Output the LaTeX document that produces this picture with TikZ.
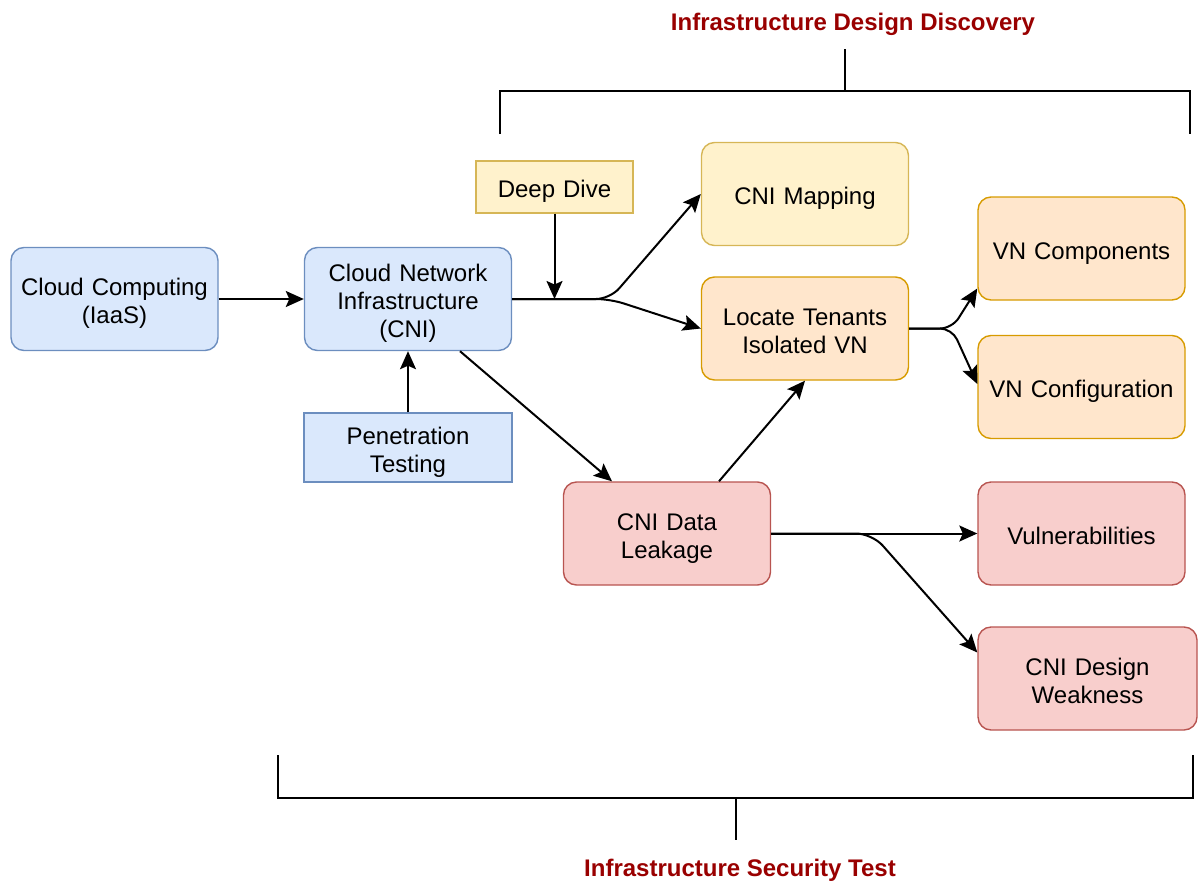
\documentclass[tikz,border=0pt]{standalone}
\usepackage{fontspec}
\setmainfont{Liberation Sans}
\usetikzlibrary{arrows.meta,calc}

\definecolor{blueF}{HTML}{DAE8FC}
\definecolor{blueD}{HTML}{6C8EBF}
\definecolor{yelF}{HTML}{FFF2CC}
\definecolor{yelD}{HTML}{D6B656}
\definecolor{oraF}{HTML}{FFE6CC}
\definecolor{oraD}{HTML}{D79B00}
\definecolor{redF}{HTML}{F8CECC}
\definecolor{redD}{HTML}{B85450}
\definecolor{headred}{HTML}{990000}

\tikzset{
  linktip/.tip={Stealth[length=18pt,width=16pt,inset=3.5pt]},
  every node/.style={font=\fontsize{24}{28}\selectfont, align=center, inner sep=0pt},
  % fixed first-line height and last-line depth keep the text block evenly placed
  boxtext/.style={text width=200pt,
    execute at begin node={\rule{0pt}{28.2pt}},
    execute at end node={\rule[-7pt]{0pt}{7pt}}},
  card/.style={boxtext, draw, line width=1.4pt, rounded corners=13pt, minimum width=207pt, minimum height=103pt},
  plain/.style={boxtext, draw, line width=1.4pt, rounded corners=0pt},
  bluecard/.style={card, fill=blueF, draw=blueD},
  yelcard/.style={card, fill=yelF, draw=yelD},
  oracard/.style={card, fill=oraF, draw=oraD},
  redcard/.style={card, fill=redF, draw=redD},
  link/.style={line width=2pt, -linktip},
  brace/.style={line width=1.6pt},
  heading/.style={font=\bfseries\fontsize{24}{28}\selectfont, text=headred}
}

\begin{document}
\begin{tikzpicture}[x=1pt,y=-1pt]
\useasboundingbox (0,0) rectangle (1198,881);

% left column
\node[bluecard] (cc)  at (114.5,299) {Cloud Computing\\(IaaS)};
\node[bluecard] (cni) at (408,299) {Cloud Network\\Infrastructure\\(CNI)};
\node[plain, fill=blueF, draw=blueD, minimum width=208pt, minimum height=69pt] (pen) at (408,447.5) {Penetration\\Testing};
\node[plain, fill=yelF, draw=yelD, text width=150pt, minimum width=157pt, minimum height=52pt] (dd) at (554.5,187) {Deep Dive};

% middle column
\node[yelcard] (map) at (805,194) {CNI Mapping};
\node[oracard] (loc) at (805,328.5) {Locate Tenants\\Isolated VN};
\node[redcard] (dl)  at (667,533.5) {CNI Data\\Leakage};

% right column
\node[oracard] (vnc) at (1081.5,248.5) {VN Components};
\node[oracard] (vnf) at (1081.5,387) {VN Configuration};
\node[redcard] (vul) at (1081.5,533.5) {Vulnerabilities};
\node[redcard, minimum width=219pt] (dw) at (1087.5,678.5) {CNI Design\\Weakness};

% connectors
\coordinate (split) at (610,299);
\coordinate (fork)  at (952,328.5);
\coordinate (drop)  at (872,533.5);

\draw[link] (cc.east) -- (cni.east -| cni.west);
\draw[link, rounded corners=14pt] (cni.east) -- (split) -- (map.west);
\draw[link, rounded corners=14pt] (cni.east) -- (split) -- (loc.west);
\draw[link] (dd.south) -- (dd.south |- cni.east);
\draw[link] (pen.north) -- (cni.south);
\draw[link] ($(cni.south)+(52,0)$) -- ($(dl.north)+(-55,0)$);
\draw[link] ($(dl.north)+(52,0)$) -- (loc.south);
\draw[link, rounded corners=12pt] (loc.east) -- (fork) -- ($(vnc.west)+(0,40)$);
\draw[link, rounded corners=12pt] (loc.east) -- (fork) -- ($(vnf.west)+(0,-3)$);
\draw[link] (dl.east) -- (vul.west);
\draw[link, rounded corners=16pt] (dl.east) -- (drop) -- ($(dw.west)+(0,-26)$);

% upper bracket
\coordinate (tl) at (500,134);
\coordinate (tr) at (1190,134);
\coordinate (tm) at (845,91);
\node[heading] (toptitle) at (853,24) {Infrastructure Design Discovery};
\draw[brace] (tl) -- (tl |- tm) -- (tr |- tm) -- (tr);
\draw[brace] (tm) -- (845,49);

% lower bracket
\coordinate (bl) at (278,755);
\coordinate (br) at (1193,755);
\coordinate (bm) at (736,798);
\node[heading] (bottitle) at (740,870) {Infrastructure Security Test};
\draw[brace] (bl) -- (bl |- bm) -- (br |- bm) -- (br);
\draw[brace] (bm) -- (736,840);
\end{tikzpicture}
\end{document}
